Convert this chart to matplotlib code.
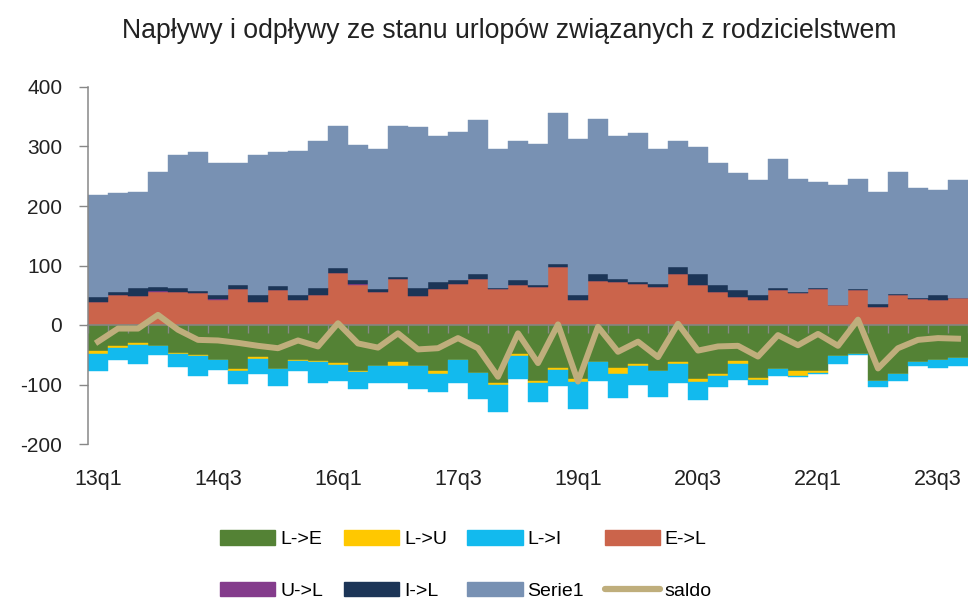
import numpy as np
import matplotlib.pyplot as plt
from matplotlib.patches import Patch
from matplotlib.lines import Line2D

plt.rcParams['font.family'] = ['Liberation Sans', 'DejaVu Sans']
plt.rcParams['axes.unicode_minus'] = False

# quarters 13q1 .. 23q4
quarters = [f"{y}q{q}" for y in range(13, 24) for q in range(1, 5)]
shown_labels = ["13q1", "14q3", "16q1", "17q3", "19q1", "20q3", "22q1", "23q3"]

# inflows (positive)
E_L = [39, 50, 48, 55, 56, 53, 42, 60, 39, 58, 42, 50, 88, 67, 55, 77, 49, 61, 69, 77, 60, 67,
       64, 97, 42, 74, 72, 69, 64, 86, 67, 55, 47, 42, 58, 53, 61, 34, 58, 31, 50, 43, 42, 45]
U_L = [0, 0, 0, 2, 0, 0, 2, 0, 0, 0, 0, 0, 0, 2, 0, 0, 0, 0, 0, 0, 0, 0,
       0, 0, 0, 0, 0, 0, 0, 0, 0, 0, 0, 0, 0, 0, 0, 0, 0, 0, 0, 0, 0, 0]
I_L = [8, 6, 15, 7, 6, 4, 6, 8, 11, 8, 8, 13, 8, 7, 6, 3, 14, 11, 6, 9, 3, 8,
       3, 5, 8, 12, 5, 3, 5, 11, 19, 12, 11, 8, 5, 2, 2, 0, 3, 5, 2, 2, 8, 0]
Serie1 = [172, 166, 161, 193, 223, 233, 222, 205, 235, 225, 243, 246, 238, 226, 235, 255, 269, 246, 249, 259, 233, 235,
          238, 254, 262, 260, 241, 251, 227, 213, 213, 205, 197, 193, 216, 190, 177, 201, 185, 188, 205, 185, 177, 199]

# outflows (negative)
L_E = [-44, -35, -30, -35, -47, -50, -58, -74, -53, -74, -59, -61, -64, -77, -69, -63, -69, -78, -58, -80, -97, -49,
       -94, -72, -91, -63, -72, -66, -77, -63, -91, -83, -61, -89, -74, -77, -77, -52, -48, -94, -83, -63, -58, -55]
L_U = [-5, -3, -3, 0, -2, -2, 0, -3, -4, 0, -2, -2, -4, -2, 0, -6, 0, -4, 0, 0, -3, -3,
       -3, -3, -4, 0, -11, -3, 0, -3, -4, -3, -5, -3, 0, -8, -3, 0, 0, 0, 0, 0, 0, 0]
L_I = [-28, -20, -33, -15, -22, -33, -17, -22, -25, -28, -17, -34, -26, -28, -28, -28, -39, -30, -39, -44, -47, -39,
       -33, -27, -46, -31, -39, -31, -44, -31, -31, -19, -27, -8, -11, -3, -3, -14, -2, -11, -11, -6, -14, -14]

saldo = [-28, -6, -6, 17, -8, -25, -26, -30, -35, -39, -26, -36, 3, -31, -38, -14, -41, -39, -22, -39, -87, -14,
         -64, 1, -95, -3, -45, -28, -54, 2, -43, -36, -35, -53, -17, -34, -15, -35, 9, -73, -39, -25, -22, -23]

colors = {
    "L->E": "#548235", "L->U": "#FFC800", "L->I": "#12BAEE", "E->L": "#CB644B",
    "U->L": "#843C8C", "I->L": "#1C3557", "Serie1": "#7891B3", "saldo": "#BFAE7C",
}

n = len(quarters)
x = np.arange(n)

fig = plt.figure(figsize=(9.68, 6.03), dpi=100)
ax = fig.add_axes([88 / 968, 1 - 444 / 603, 880 / 968, 357 / 603])

# positive stack
bottom = np.zeros(n)
for name, vals in [("E->L", E_L), ("U->L", U_L), ("I->L", I_L), ("Serie1", Serie1)]:
    ax.bar(x, vals, 1.0, bottom=bottom, color=colors[name], edgecolor=colors[name], lw=0.3)
    bottom += np.array(vals)

# negative stack
bottom = np.zeros(n)
for name, vals in [("L->E", L_E), ("L->U", L_U), ("L->I", L_I)]:
    ax.bar(x, vals, 1.0, bottom=bottom, color=colors[name], edgecolor=colors[name], lw=0.3)
    bottom += np.array(vals)

ax.plot(x, saldo, color=colors["saldo"], lw=4.3, zorder=4, solid_joinstyle='round')

ax.set_xlim(-0.5, n - 0.5)
ax.set_ylim(-200, 400)
ax.set_yticks(range(-200, 401, 100))

axis_gray = "#878787"
for s in ["top", "right"]:
    ax.spines[s].set_visible(False)
ax.spines["left"].set_color(axis_gray)
ax.spines["left"].set_linewidth(1.1)
ax.spines["bottom"].set_position(("data", 0))
ax.spines["bottom"].set_color(axis_gray)
ax.spines["bottom"].set_linewidth(1.1)

ax.set_xticks(np.arange(-0.5, n, 1))
ax.tick_params(axis="x", direction="out", length=6, color=axis_gray, width=1, labelbottom=False)
ax.tick_params(axis="y", direction="out", length=6.5, color=axis_gray, width=1,
               labelsize=15, pad=12, labelcolor="#222222")

for lab in shown_labels:
    i = quarters.index(lab)
    ax.text(i, -0.116, lab, transform=ax.get_xaxis_transform(), ha="center", va="baseline",
            fontsize=15.5, color="#222222")

fig.text(0.526, 1 - 38 / 603, "Napływy i odpływy ze stanu urlopów związanych z rodzicielstwem",
         ha="center", va="baseline", fontsize=19.2, color="#222222")

order = ["L->E", "L->U", "L->I", "E->L", "U->L", "I->L", "Serie1", "saldo"]
handles = {}
for name in order:
    if name == "saldo":
        handles[name] = Line2D([], [], color=colors[name], lw=4.5, solid_capstyle="round")
    else:
        handles[name] = Patch(facecolor=colors[name], edgecolor=colors[name])
# legend fills column-wise; reorder so rows read as in the original
col_order = [order[0], order[4], order[1], order[5], order[2], order[6], order[3], order[7]]
fig.legend([handles[k] for k in col_order], col_order, loc="center", ncol=4,
           bbox_to_anchor=(466 / 968, 1 - 565 / 603), frameon=False, fontsize=14,
           handlelength=2.85, handleheight=0.8, handletextpad=0.25, columnspacing=1.05,
           labelspacing=1.7)

fig.savefig("out.png", dpi=100)
